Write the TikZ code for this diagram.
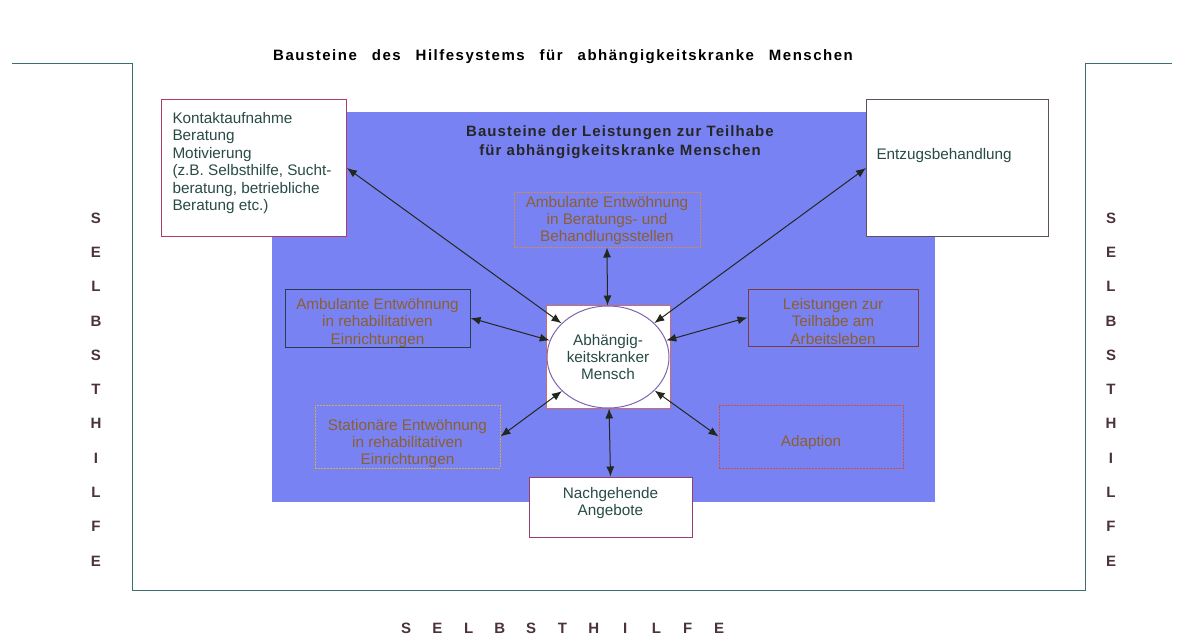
\documentclass[tikz,border=0pt]{standalone}
\usepackage{fontspec}
\setmainfont{Liberation Sans}
\usetikzlibrary{arrows.meta,shapes.geometric}
\definecolor{panelblue}{RGB}{120,130,242}
\definecolor{framecol}{RGB}{60,110,110}
\definecolor{linkcol}{RGB}{35,40,30}
\definecolor{darktext}{RGB}{40,75,70}
\definecolor{browntext}{RGB}{140,95,50}
\definecolor{lettercol}{RGB}{75,50,60}
\definecolor{kontaktcol}{RGB}{175,60,105}
\definecolor{entzugcol}{RGB}{95,80,95}
\definecolor{ambbercol}{RGB}{215,140,70}
\definecolor{ambrehacol}{RGB}{40,60,80}
\definecolor{statcol}{RGB}{215,175,60}
\definecolor{teilhabecol}{RGB}{120,60,60}
\definecolor{adaptioncol}{RGB}{205,80,60}
\definecolor{nachcol}{RGB}{150,60,110}
\definecolor{squarecol}{RGB}{200,110,110}
\definecolor{ellipsecol}{RGB}{130,100,180}
\newcommand{\drawLink}[2]{
  \draw[link] (#1) -- (#2);
}
% width, height, extra space on top, text
\newcommand{\boxText}[4]{\parbox[c][#2][c]{#1}{\centering\vspace*{#3}#4}}

\begin{document}
\begin{tikzpicture}[x=1pt, y=-1pt, line width=1pt,
  every node/.style={font=\fontsize{15.3}{17.4}\selectfont},
  link/.style={{Latex[length=10pt,width=8pt]}-{Latex[length=10pt,width=8pt]}, draw=linkcol},
  whitebox/.style={draw=#1, fill=white, inner sep=0pt, text=darktext},
  innerbox/.style={draw=#1, inner sep=0pt, text=browntext},
  dotbox/.style={dash pattern=on 2pt off 1pt},
  letter/.style={font=\fontsize{15}{15}\selectfont\bfseries, text=lettercol}]
  \useasboundingbox (0,0) rectangle (1179,637);

  % Frame and panel
  \draw[framecol] (12,63) -- (132,63) -- (132,590) -- (1085,590) -- (1085,63) -- (1172,63);
  \fill[panelblue] (272,112) rectangle (935,502);

  % Titles
  \node[font=\fontsize{15}{18}\selectfont\bfseries\addfontfeatures{LetterSpace=10}] (title) at (563,57)
    {\spaceskip=15pt\relax Bausteine des Hilfesystems für abhängigkeitskranke Menschen};
  \node[font=\fontsize{15}{19}\selectfont\bfseries\addfontfeatures{LetterSpace=7}, align=center, text=black!85] (subtitle) at (620,142)
    {Bausteine der Leistungen zur Teilhabe\\für abhängigkeitskranke Menschen};

  % Nodes
  \node[whitebox=kontaktcol, anchor=north west, inner xsep=11pt, inner ysep=8pt] (kontakt) at (161,99)
    {\parbox[t][121pt][t]{163pt}{\raggedright\vspace*{5pt}Kontaktaufnahme\\Beratung\\Motivierung\\(z.B. Selbsthilfe, Sucht-\\beratung, betriebliche\\Beratung etc.)}};
  \node[whitebox=entzugcol, anchor=north west, inner xsep=10pt, inner ysep=8pt] (entzug) at (866,99)
    {\parbox[t][121pt][t]{162pt}{\raggedright\vspace*{41pt}Entzugsbehandlung}};
  \node[innerbox=ambbercol, dotbox] (ambBer) at (607,219.5)
    {\boxText{186pt}{55pt}{2pt}{Ambulante Entwöhnung\\in Beratungs- und\\Behandlungsstellen}};
  \node[innerbox=ambrehacol] (ambReha) at (377.5,318)
    {\boxText{185pt}{58pt}{10pt}{Ambulante Entwöhnung\\in rehabilitativen\\Einrichtungen}};
  \node[innerbox=statcol, dotbox] (stat) at (407.5,436.5)
    {\boxText{185pt}{63pt}{14pt}{Stationäre Entwöhnung\\in rehabilitativen\\Einrichtungen}};
  \node[innerbox=teilhabecol] (teilhabe) at (833,317.5)
    {\boxText{170pt}{57pt}{8pt}{Leistungen zur\\Teilhabe am\\Arbeitsleben}};
  \node[innerbox=adaptioncol, dotbox] (adaption) at (811,436.5)
    {\boxText{184pt}{63pt}{12pt}{Adaption}};
  \node[whitebox=nachcol] (nach) at (610.5,507)
    {\boxText{163pt}{60pt}{-8pt}{Nachgehende\\Angebote}};
  \node[draw=squarecol, fill=white, minimum width=124pt, minimum height=103pt] (personBg) at (608,356.5) {};
  \node[ellipse, draw=ellipsecol, fill=white, inner sep=0pt,
    minimum width=122pt, minimum height=102pt, align=center, text=darktext] (person) at (608,357)
    {Abhängig-\\keitskranker\\Mensch};

  % Connectors
  \drawLink{kontakt.east}{person}
  \drawLink{entzug.west}{person}
  \drawLink{ambBer.south}{person}
  \drawLink{ambReha.east}{person}
  \drawLink{teilhabe.west}{person}
  \drawLink{stat.east}{person}
  \drawLink{adaption.west}{person}
  \drawLink{nach.north}{person}

  % Selbsthilfe
  \foreach \c [count=\i] in {S,E,L,B,S,T,H,I,L,F,E} {
    \node[letter] (sl\i) at (96,{218+(\i-1)*34.3}) {\c};
    \node[letter] (sr\i) at (1111,{218+(\i-1)*34.3}) {\c};
    \node[letter] (sb\i) at ({406+(\i-1)*31.3},628) {\c};
  }

\end{tikzpicture}
\end{document}
